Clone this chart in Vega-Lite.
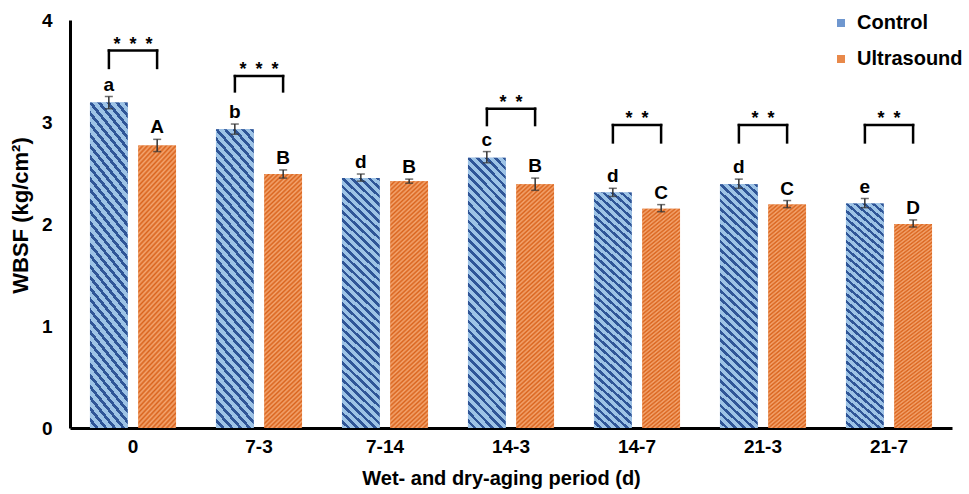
{
  "$schema": "https://vega.github.io/schema/vega-lite/v6.json",
  "width": 882,
  "height": 408,
  "autosize": {"type": "none"},
  "padding": {"left": 70, "top": 20, "right": 17, "bottom": 66},
  "background": "white",
  "config": {
    "view": {"stroke": null},
    "font": "Liberation Sans",
    "axis": {"labelFont": "Liberation Sans", "titleFont": "Liberation Sans", "labelColor": "black", "titleColor": "black", "labelFontWeight": "bold", "titleFontWeight": "bold", "grid": false, "ticks": false, "tickSize": 0, "domainColor": "black", "domainWidth": 3},
    "legend": {"labelFont": "Liberation Sans"}
  },
  "datasets": {
    "bars": [
      {"period": "0", "group": "Control", "mean": 3.19, "lo": 3.13, "hi": 3.25, "letter": "a"},
      {"period": "0", "group": "Ultrasound", "mean": 2.77, "lo": 2.71, "hi": 2.83, "letter": "A"},
      {"period": "7-3", "group": "Control", "mean": 2.93, "lo": 2.88, "hi": 2.98, "letter": "b"},
      {"period": "7-3", "group": "Ultrasound", "mean": 2.49, "lo": 2.45, "hi": 2.53, "letter": "B"},
      {"period": "7-14", "group": "Control", "mean": 2.45, "lo": 2.42, "hi": 2.49, "letter": "d"},
      {"period": "7-14", "group": "Ultrasound", "mean": 2.42, "lo": 2.40, "hi": 2.44, "letter": "B"},
      {"period": "14-3", "group": "Control", "mean": 2.65, "lo": 2.60, "hi": 2.71, "letter": "c"},
      {"period": "14-3", "group": "Ultrasound", "mean": 2.39, "lo": 2.33, "hi": 2.45, "letter": "B"},
      {"period": "14-7", "group": "Control", "mean": 2.31, "lo": 2.27, "hi": 2.35, "letter": "d"},
      {"period": "14-7", "group": "Ultrasound", "mean": 2.15, "lo": 2.12, "hi": 2.19, "letter": "C"},
      {"period": "21-3", "group": "Control", "mean": 2.39, "lo": 2.35, "hi": 2.44, "letter": "d"},
      {"period": "21-3", "group": "Ultrasound", "mean": 2.19, "lo": 2.16, "hi": 2.23, "letter": "C"},
      {"period": "21-7", "group": "Control", "mean": 2.20, "lo": 2.16, "hi": 2.25, "letter": "e"},
      {"period": "21-7", "group": "Ultrasound", "mean": 2.00, "lo": 1.97, "hi": 2.04, "letter": "D"}
    ],
    "brackets": [
      {"period": "0", "stars": "*\u2002*\u2002*", "top": 3.70, "bottom": 3.53},
      {"period": "7-3", "stars": "*\u2002*\u2002*", "top": 3.45, "bottom": 3.30},
      {"period": "14-3", "stars": "*\u2002*", "top": 3.13, "bottom": 2.97},
      {"period": "14-7", "stars": "*\u2002*", "top": 2.97, "bottom": 2.80},
      {"period": "21-3", "stars": "*\u2002*", "top": 2.97, "bottom": 2.80},
      {"period": "21-7", "stars": "*\u2002*", "top": 2.97, "bottom": 2.80}
    ]
  },
  "layer": [
    {
      "data": {"name": "bars"},
      "mark": {"type": "bar"},
      "encoding": {
        "x": {"field": "period", "type": "nominal", "sort": null,
          "scale": {"type": "band", "domain": ["0", "7-3", "7-14", "14-3", "14-7", "21-3", "21-7"], "paddingInner": 0.317, "paddingOuter": 0.1585},
          "axis": {"title": "Wet- and dry-aging period (d)", "labelAngle": 0, "labelFontSize": 19, "labelPadding": 9, "titleFontSize": 20, "titlePadding": 12, "titleX": 431}},
        "xOffset": {"field": "group", "type": "nominal", "scale": {"domain": ["Control", "Ultrasound"], "paddingInner": 0.22, "paddingOuter": 0}},
        "y": {"field": "mean", "type": "quantitative",
          "scale": {"domain": [0, 4], "nice": false},
          "axis": {"title": "WBSF (kg/cm²)", "values": [0, 1, 2, 3, 4], "format": "d", "labelFontSize": 19, "labelPadding": 18, "titleFontSize": 22, "titlePadding": 9, "titleY": 195}},
        "color": {"field": "group", "type": "nominal",
          "scale": {"domain": ["Control", "Ultrasound"], "range": ["#6f97cf", "#e8894a"]},
          "legend": {"title": null, "orient": "none", "legendX": 761, "legendY": -7, "symbolType": "square", "symbolSize": 64, "symbolStrokeWidth": 0, "labelFontSize": 20, "labelFontWeight": "bold", "labelColor": "black", "rowPadding": 16, "labelOffset": 6, "padding": 0}}
      }
    },
    {
      "data": {"name": "bars"},
      "transform": [{"filter": "datum.group === 'Control'"}],
      "mark": {"type": "bar", "fill": {"gradient": "linear", "x1": 0, "y1": 1, "x2": 0.16, "y2": -0.12, "stops": [
        {"offset": 0, "color": "#9dc3e6"}, {"offset": 0.0171, "color": "#9dc3e6"}, {"offset": 0.0171, "color": "#2f5597"}, {"offset": 0.0294, "color": "#2f5597"},
        {"offset": 0.0294, "color": "#9dc3e6"}, {"offset": 0.0465, "color": "#9dc3e6"}, {"offset": 0.0465, "color": "#2f5597"}, {"offset": 0.0588, "color": "#2f5597"},
        {"offset": 0.0588, "color": "#9dc3e6"}, {"offset": 0.0759, "color": "#9dc3e6"}, {"offset": 0.0759, "color": "#2f5597"}, {"offset": 0.0882, "color": "#2f5597"},
        {"offset": 0.0882, "color": "#9dc3e6"}, {"offset": 0.1053, "color": "#9dc3e6"}, {"offset": 0.1053, "color": "#2f5597"}, {"offset": 0.1176, "color": "#2f5597"},
        {"offset": 0.1176, "color": "#9dc3e6"}, {"offset": 0.1347, "color": "#9dc3e6"}, {"offset": 0.1347, "color": "#2f5597"}, {"offset": 0.1471, "color": "#2f5597"},
        {"offset": 0.1471, "color": "#9dc3e6"}, {"offset": 0.1641, "color": "#9dc3e6"}, {"offset": 0.1641, "color": "#2f5597"}, {"offset": 0.1765, "color": "#2f5597"},
        {"offset": 0.1765, "color": "#9dc3e6"}, {"offset": 0.1935, "color": "#9dc3e6"}, {"offset": 0.1935, "color": "#2f5597"}, {"offset": 0.2059, "color": "#2f5597"},
        {"offset": 0.2059, "color": "#9dc3e6"}, {"offset": 0.2230, "color": "#9dc3e6"}, {"offset": 0.2230, "color": "#2f5597"}, {"offset": 0.2353, "color": "#2f5597"},
        {"offset": 0.2353, "color": "#9dc3e6"}, {"offset": 0.2524, "color": "#9dc3e6"}, {"offset": 0.2524, "color": "#2f5597"}, {"offset": 0.2647, "color": "#2f5597"},
        {"offset": 0.2647, "color": "#9dc3e6"}, {"offset": 0.2818, "color": "#9dc3e6"}, {"offset": 0.2818, "color": "#2f5597"}, {"offset": 0.2941, "color": "#2f5597"},
        {"offset": 0.2941, "color": "#9dc3e6"}, {"offset": 0.3112, "color": "#9dc3e6"}, {"offset": 0.3112, "color": "#2f5597"}, {"offset": 0.3235, "color": "#2f5597"},
        {"offset": 0.3235, "color": "#9dc3e6"}, {"offset": 0.3406, "color": "#9dc3e6"}, {"offset": 0.3406, "color": "#2f5597"}, {"offset": 0.3529, "color": "#2f5597"},
        {"offset": 0.3529, "color": "#9dc3e6"}, {"offset": 0.3700, "color": "#9dc3e6"}, {"offset": 0.3700, "color": "#2f5597"}, {"offset": 0.3824, "color": "#2f5597"},
        {"offset": 0.3824, "color": "#9dc3e6"}, {"offset": 0.3994, "color": "#9dc3e6"}, {"offset": 0.3994, "color": "#2f5597"}, {"offset": 0.4118, "color": "#2f5597"},
        {"offset": 0.4118, "color": "#9dc3e6"}, {"offset": 0.4289, "color": "#9dc3e6"}, {"offset": 0.4289, "color": "#2f5597"}, {"offset": 0.4412, "color": "#2f5597"},
        {"offset": 0.4412, "color": "#9dc3e6"}, {"offset": 0.4583, "color": "#9dc3e6"}, {"offset": 0.4583, "color": "#2f5597"}, {"offset": 0.4706, "color": "#2f5597"},
        {"offset": 0.4706, "color": "#9dc3e6"}, {"offset": 0.4877, "color": "#9dc3e6"}, {"offset": 0.4877, "color": "#2f5597"}, {"offset": 0.5, "color": "#2f5597"},
        {"offset": 0.5, "color": "#9dc3e6"}, {"offset": 0.5171, "color": "#9dc3e6"}, {"offset": 0.5171, "color": "#2f5597"}, {"offset": 0.5294, "color": "#2f5597"},
        {"offset": 0.5294, "color": "#9dc3e6"}, {"offset": 0.5465, "color": "#9dc3e6"}, {"offset": 0.5465, "color": "#2f5597"}, {"offset": 0.5588, "color": "#2f5597"},
        {"offset": 0.5588, "color": "#9dc3e6"}, {"offset": 0.5759, "color": "#9dc3e6"}, {"offset": 0.5759, "color": "#2f5597"}, {"offset": 0.5882, "color": "#2f5597"},
        {"offset": 0.5882, "color": "#9dc3e6"}, {"offset": 0.6053, "color": "#9dc3e6"}, {"offset": 0.6053, "color": "#2f5597"}, {"offset": 0.6176, "color": "#2f5597"},
        {"offset": 0.6176, "color": "#9dc3e6"}, {"offset": 0.6347, "color": "#9dc3e6"}, {"offset": 0.6347, "color": "#2f5597"}, {"offset": 0.6471, "color": "#2f5597"},
        {"offset": 0.6471, "color": "#9dc3e6"}, {"offset": 0.6641, "color": "#9dc3e6"}, {"offset": 0.6641, "color": "#2f5597"}, {"offset": 0.6765, "color": "#2f5597"},
        {"offset": 0.6765, "color": "#9dc3e6"}, {"offset": 0.6936, "color": "#9dc3e6"}, {"offset": 0.6936, "color": "#2f5597"}, {"offset": 0.7059, "color": "#2f5597"},
        {"offset": 0.7059, "color": "#9dc3e6"}, {"offset": 0.7230, "color": "#9dc3e6"}, {"offset": 0.7230, "color": "#2f5597"}, {"offset": 0.7353, "color": "#2f5597"},
        {"offset": 0.7353, "color": "#9dc3e6"}, {"offset": 0.7524, "color": "#9dc3e6"}, {"offset": 0.7524, "color": "#2f5597"}, {"offset": 0.7647, "color": "#2f5597"},
        {"offset": 0.7647, "color": "#9dc3e6"}, {"offset": 0.7818, "color": "#9dc3e6"}, {"offset": 0.7818, "color": "#2f5597"}, {"offset": 0.7941, "color": "#2f5597"},
        {"offset": 0.7941, "color": "#9dc3e6"}, {"offset": 0.8112, "color": "#9dc3e6"}, {"offset": 0.8112, "color": "#2f5597"}, {"offset": 0.8235, "color": "#2f5597"},
        {"offset": 0.8235, "color": "#9dc3e6"}, {"offset": 0.8406, "color": "#9dc3e6"}, {"offset": 0.8406, "color": "#2f5597"}, {"offset": 0.8529, "color": "#2f5597"},
        {"offset": 0.8529, "color": "#9dc3e6"}, {"offset": 0.8700, "color": "#9dc3e6"}, {"offset": 0.8700, "color": "#2f5597"}, {"offset": 0.8824, "color": "#2f5597"},
        {"offset": 0.8824, "color": "#9dc3e6"}, {"offset": 0.8994, "color": "#9dc3e6"}, {"offset": 0.8994, "color": "#2f5597"}, {"offset": 0.9118, "color": "#2f5597"},
        {"offset": 0.9118, "color": "#9dc3e6"}, {"offset": 0.9289, "color": "#9dc3e6"}, {"offset": 0.9289, "color": "#2f5597"}, {"offset": 0.9412, "color": "#2f5597"},
        {"offset": 0.9412, "color": "#9dc3e6"}, {"offset": 0.9583, "color": "#9dc3e6"}, {"offset": 0.9583, "color": "#2f5597"}, {"offset": 0.9706, "color": "#2f5597"},
        {"offset": 0.9706, "color": "#9dc3e6"}, {"offset": 0.9877, "color": "#9dc3e6"}, {"offset": 0.9877, "color": "#2f5597"}, {"offset": 1, "color": "#2f5597"}
      ]}},
      "encoding": {
        "x": {"field": "period", "type": "nominal", "sort": null},
        "xOffset": {"field": "group", "type": "nominal"},
        "y": {"field": "mean", "type": "quantitative"}
      }
    },
    {
      "data": {"name": "bars"},
      "transform": [{"filter": "datum.group === 'Ultrasound'"}],
      "mark": {"type": "bar", "fill": {"gradient": "linear", "x1": 0, "y1": 0, "x2": 0.16, "y2": 1.12, "stops": [
        {"offset": 0, "color": "#d9631c"}, {"offset": 0.0078, "color": "#f4a671"}, {"offset": 0.0156, "color": "#d9631c"}, {"offset": 0.0234, "color": "#f4a671"},
        {"offset": 0.0313, "color": "#d9631c"}, {"offset": 0.0391, "color": "#f4a671"}, {"offset": 0.0469, "color": "#d9631c"}, {"offset": 0.0547, "color": "#f4a671"},
        {"offset": 0.0625, "color": "#d9631c"}, {"offset": 0.0703, "color": "#f4a671"}, {"offset": 0.0781, "color": "#d9631c"}, {"offset": 0.0859, "color": "#f4a671"},
        {"offset": 0.0938, "color": "#d9631c"}, {"offset": 0.1016, "color": "#f4a671"}, {"offset": 0.1094, "color": "#d9631c"}, {"offset": 0.1172, "color": "#f4a671"},
        {"offset": 0.125, "color": "#d9631c"}, {"offset": 0.1328, "color": "#f4a671"}, {"offset": 0.1406, "color": "#d9631c"}, {"offset": 0.1484, "color": "#f4a671"},
        {"offset": 0.1563, "color": "#d9631c"}, {"offset": 0.1641, "color": "#f4a671"}, {"offset": 0.1719, "color": "#d9631c"}, {"offset": 0.1797, "color": "#f4a671"},
        {"offset": 0.1875, "color": "#d9631c"}, {"offset": 0.1953, "color": "#f4a671"}, {"offset": 0.2031, "color": "#d9631c"}, {"offset": 0.2109, "color": "#f4a671"},
        {"offset": 0.2188, "color": "#d9631c"}, {"offset": 0.2266, "color": "#f4a671"}, {"offset": 0.2344, "color": "#d9631c"}, {"offset": 0.2422, "color": "#f4a671"},
        {"offset": 0.25, "color": "#d9631c"}, {"offset": 0.2578, "color": "#f4a671"}, {"offset": 0.2656, "color": "#d9631c"}, {"offset": 0.2734, "color": "#f4a671"},
        {"offset": 0.2813, "color": "#d9631c"}, {"offset": 0.2891, "color": "#f4a671"}, {"offset": 0.2969, "color": "#d9631c"}, {"offset": 0.3047, "color": "#f4a671"},
        {"offset": 0.3125, "color": "#d9631c"}, {"offset": 0.3203, "color": "#f4a671"}, {"offset": 0.3281, "color": "#d9631c"}, {"offset": 0.3359, "color": "#f4a671"},
        {"offset": 0.3438, "color": "#d9631c"}, {"offset": 0.3516, "color": "#f4a671"}, {"offset": 0.3594, "color": "#d9631c"}, {"offset": 0.3672, "color": "#f4a671"},
        {"offset": 0.375, "color": "#d9631c"}, {"offset": 0.3828, "color": "#f4a671"}, {"offset": 0.3906, "color": "#d9631c"}, {"offset": 0.3984, "color": "#f4a671"},
        {"offset": 0.4063, "color": "#d9631c"}, {"offset": 0.4141, "color": "#f4a671"}, {"offset": 0.4219, "color": "#d9631c"}, {"offset": 0.4297, "color": "#f4a671"},
        {"offset": 0.4375, "color": "#d9631c"}, {"offset": 0.4453, "color": "#f4a671"}, {"offset": 0.4531, "color": "#d9631c"}, {"offset": 0.4609, "color": "#f4a671"},
        {"offset": 0.4688, "color": "#d9631c"}, {"offset": 0.4766, "color": "#f4a671"}, {"offset": 0.4844, "color": "#d9631c"}, {"offset": 0.4922, "color": "#f4a671"},
        {"offset": 0.5, "color": "#d9631c"}, {"offset": 0.5078, "color": "#f4a671"}, {"offset": 0.5156, "color": "#d9631c"}, {"offset": 0.5234, "color": "#f4a671"},
        {"offset": 0.5313, "color": "#d9631c"}, {"offset": 0.5391, "color": "#f4a671"}, {"offset": 0.5469, "color": "#d9631c"}, {"offset": 0.5547, "color": "#f4a671"},
        {"offset": 0.5625, "color": "#d9631c"}, {"offset": 0.5703, "color": "#f4a671"}, {"offset": 0.5781, "color": "#d9631c"}, {"offset": 0.5859, "color": "#f4a671"},
        {"offset": 0.5938, "color": "#d9631c"}, {"offset": 0.6016, "color": "#f4a671"}, {"offset": 0.6094, "color": "#d9631c"}, {"offset": 0.6172, "color": "#f4a671"},
        {"offset": 0.625, "color": "#d9631c"}, {"offset": 0.6328, "color": "#f4a671"}, {"offset": 0.6406, "color": "#d9631c"}, {"offset": 0.6484, "color": "#f4a671"},
        {"offset": 0.6563, "color": "#d9631c"}, {"offset": 0.6641, "color": "#f4a671"}, {"offset": 0.6719, "color": "#d9631c"}, {"offset": 0.6797, "color": "#f4a671"},
        {"offset": 0.6875, "color": "#d9631c"}, {"offset": 0.6953, "color": "#f4a671"}, {"offset": 0.7031, "color": "#d9631c"}, {"offset": 0.7109, "color": "#f4a671"},
        {"offset": 0.7188, "color": "#d9631c"}, {"offset": 0.7266, "color": "#f4a671"}, {"offset": 0.7344, "color": "#d9631c"}, {"offset": 0.7422, "color": "#f4a671"},
        {"offset": 0.75, "color": "#d9631c"}, {"offset": 0.7578, "color": "#f4a671"}, {"offset": 0.7656, "color": "#d9631c"}, {"offset": 0.7734, "color": "#f4a671"},
        {"offset": 0.7813, "color": "#d9631c"}, {"offset": 0.7891, "color": "#f4a671"}, {"offset": 0.7969, "color": "#d9631c"}, {"offset": 0.8047, "color": "#f4a671"},
        {"offset": 0.8125, "color": "#d9631c"}, {"offset": 0.8203, "color": "#f4a671"}, {"offset": 0.8281, "color": "#d9631c"}, {"offset": 0.8359, "color": "#f4a671"},
        {"offset": 0.8438, "color": "#d9631c"}, {"offset": 0.8516, "color": "#f4a671"}, {"offset": 0.8594, "color": "#d9631c"}, {"offset": 0.8672, "color": "#f4a671"},
        {"offset": 0.875, "color": "#d9631c"}, {"offset": 0.8828, "color": "#f4a671"}, {"offset": 0.8906, "color": "#d9631c"}, {"offset": 0.8984, "color": "#f4a671"},
        {"offset": 0.9063, "color": "#d9631c"}, {"offset": 0.9141, "color": "#f4a671"}, {"offset": 0.9219, "color": "#d9631c"}, {"offset": 0.9297, "color": "#f4a671"},
        {"offset": 0.9375, "color": "#d9631c"}, {"offset": 0.9453, "color": "#f4a671"}, {"offset": 0.9531, "color": "#d9631c"}, {"offset": 0.9609, "color": "#f4a671"},
        {"offset": 0.9688, "color": "#d9631c"}, {"offset": 0.9766, "color": "#f4a671"}, {"offset": 0.9844, "color": "#d9631c"}, {"offset": 0.9922, "color": "#f4a671"},
        {"offset": 1, "color": "#d9631c"}
      ]}},
      "encoding": {
        "x": {"field": "period", "type": "nominal", "sort": null},
        "xOffset": {"field": "group", "type": "nominal"},
        "y": {"field": "mean", "type": "quantitative"}
      }
    },
    {
      "data": {"name": "bars"},
      "mark": {"type": "rule", "color": "#333333", "strokeWidth": 1.5},
      "encoding": {
        "x": {"field": "period", "type": "nominal", "sort": null},
        "xOffset": {"field": "group", "type": "nominal"},
        "y": {"field": "lo", "type": "quantitative"},
        "y2": {"field": "hi"}
      }
    },
    {
      "data": {"name": "bars"},
      "mark": {"type": "tick", "color": "#333333", "size": 8, "thickness": 1.5, "orient": "horizontal"},
      "encoding": {
        "x": {"field": "period", "type": "nominal", "sort": null},
        "xOffset": {"field": "group", "type": "nominal"},
        "y": {"field": "lo", "type": "quantitative"}
      }
    },
    {
      "data": {"name": "bars"},
      "mark": {"type": "tick", "color": "#333333", "size": 8, "thickness": 1.5, "orient": "horizontal"},
      "encoding": {
        "x": {"field": "period", "type": "nominal", "sort": null},
        "xOffset": {"field": "group", "type": "nominal"},
        "y": {"field": "hi", "type": "quantitative"}
      }
    },
    {
      "data": {"name": "bars"},
      "mark": {"type": "text", "font": "Liberation Sans", "fontWeight": "bold", "fontSize": 19, "color": "black", "align": "center", "baseline": "alphabetic", "dy": -6},
      "encoding": {
        "x": {"field": "period", "type": "nominal", "sort": null},
        "xOffset": {"field": "group", "type": "nominal"},
        "y": {"field": "hi", "type": "quantitative"},
        "text": {"field": "letter"}
      }
    },
    {
      "data": {"name": "brackets"},
      "mark": {"type": "rule", "color": "black", "strokeWidth": 2.5, "strokeCap": "square"},
      "encoding": {
        "x": {"field": "period", "type": "nominal", "sort": null, "bandPosition": 0.22},
        "y": {"field": "bottom", "type": "quantitative"},
        "y2": {"field": "top"}
      }
    },
    {
      "data": {"name": "brackets"},
      "mark": {"type": "rule", "color": "black", "strokeWidth": 2.5, "strokeCap": "square"},
      "encoding": {
        "x": {"field": "period", "type": "nominal", "sort": null, "bandPosition": 0.78},
        "y": {"field": "bottom", "type": "quantitative"},
        "y2": {"field": "top"}
      }
    },
    {
      "data": {"name": "brackets"},
      "mark": {"type": "rule", "color": "black", "strokeWidth": 2.5, "strokeCap": "square"},
      "encoding": {
        "x": {"field": "period", "type": "nominal", "sort": null, "bandPosition": 0.22},
        "x2": {"field": "period", "bandPosition": 0.78},
        "y": {"field": "top", "type": "quantitative"}
      }
    },
    {
      "data": {"name": "brackets"},
      "mark": {"type": "text", "font": "Liberation Sans", "fontWeight": "bold", "fontSize": 18, "color": "black", "align": "center", "baseline": "alphabetic", "dy": -1},
      "encoding": {
        "x": {"field": "period", "type": "nominal", "sort": null},
        "y": {"field": "top", "type": "quantitative"},
        "text": {"field": "stars"}
      }
    }
  ]
}
